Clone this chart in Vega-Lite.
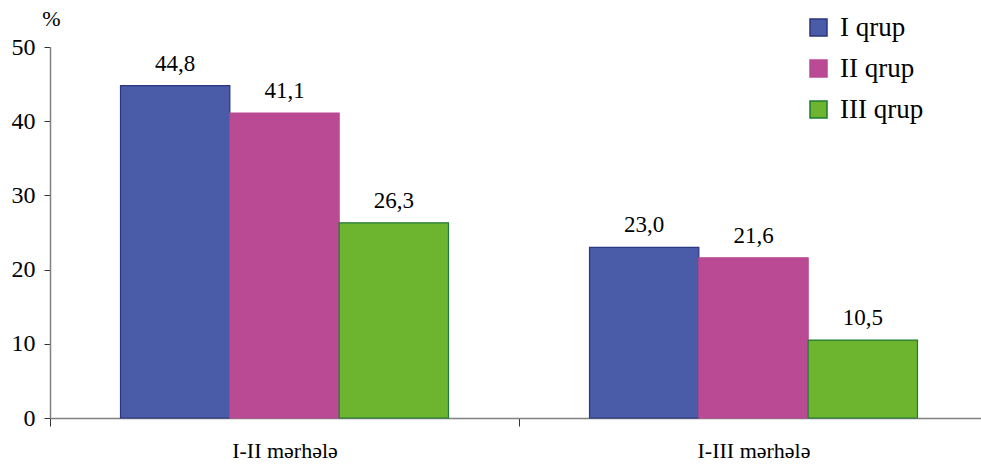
{
  "$schema": "https://vega.github.io/schema/vega-lite/v6.json",
  "width": 938,
  "height": 371,
  "autosize": "none",
  "padding": {"left": 50, "top": 47, "right": 0, "bottom": 47},
  "background": "white",
  "config": {
    "view": {"stroke": null},
    "font": "Liberation Serif, Times New Roman, Tinos, serif",
    "locale": {"number": {"decimal": ",", "thousands": " ", "grouping": [3], "currency": ["", ""]}}
  },
  "data": {
    "values": [
      {"stage": "I-II mərhələ", "group": "I qrup", "value": 44.8},
      {"stage": "I-II mərhələ", "group": "II qrup", "value": 41.1},
      {"stage": "I-II mərhələ", "group": "III qrup", "value": 26.3},
      {"stage": "I-III mərhələ", "group": "I qrup", "value": 23.0},
      {"stage": "I-III mərhələ", "group": "II qrup", "value": 21.6},
      {"stage": "I-III mərhələ", "group": "III qrup", "value": 10.5}
    ]
  },
  "encoding": {
    "x": {
      "field": "stage", "type": "nominal", "sort": ["I-II mərhələ", "I-III mərhələ"],
      "scale": {"paddingInner": 0, "paddingOuter": 0},
      "axis": {
        "title": null, "labelAngle": 0, "tickBand": "extent",
        "domainColor": "#808080", "domainWidth": 1.5,
        "tickColor": "#333333", "tickSize": 8,
        "labelFont": "Liberation Serif, Times New Roman, Tinos, serif", "labelFontSize": 22, "labelColor": "#000000",
        "labelPadding": 14
      }
    },
    "xOffset": {"field": "group", "type": "nominal", "sort": ["I qrup", "II qrup", "III qrup"], "scale": {"paddingInner": 0, "paddingOuter": 0.645}},
    "y": {
      "field": "value", "type": "quantitative",
      "scale": {"domain": [0, 50], "nice": false},
      "axis": {
        "title": "%", "titleAngle": 0, "titleX": 1, "titleY": -22, "titleAlign": "center", "titleBaseline": "alphabetic",
        "titleFont": "Liberation Serif, Times New Roman, Tinos, serif", "titleFontSize": 22, "titleFontWeight": "normal", "titleColor": "#000000",
        "values": [0, 10, 20, 30, 40, 50], "grid": false,
        "domainColor": "#808080", "domainWidth": 1.5,
        "tickColor": "#333333", "tickSize": 6,
        "labelFont": "Liberation Serif, Times New Roman, Tinos, serif", "labelFontSize": 24, "labelColor": "#000000", "labelPadding": 9
      }
    }
  },
  "layer": [
    {
      "mark": {"type": "bar", "strokeWidth": 1.2},
      "encoding": {
        "fill": {
          "field": "group", "type": "nominal",
          "scale": {"domain": ["I qrup", "II qrup", "III qrup"], "range": ["#4A5BA8", "#BB4A94", "#6DB52E"]},
          "legend": {
            "title": null, "orient": "none", "legendX": 755, "legendY": -33,
            "symbolType": "square", "symbolSize": 289, "symbolStrokeWidth": 1.5,
            "labelFont": "Liberation Serif, Times New Roman, Tinos, serif", "labelFontSize": 27, "labelColor": "#000000",
            "rowPadding": 13, "labelOffset": 8
          }
        },
        "stroke": {
          "field": "group", "type": "nominal",
          "scale": {"domain": ["I qrup", "II qrup", "III qrup"], "range": ["#2A367E", "#BB4A94", "#1F7A35"]},
          "legend": {
            "title": null, "orient": "none", "legendX": 755, "legendY": -33,
            "symbolType": "square", "symbolSize": 289, "symbolStrokeWidth": 1.5,
            "labelFont": "Liberation Serif, Times New Roman, Tinos, serif", "labelFontSize": 27, "labelColor": "#000000",
            "rowPadding": 13, "labelOffset": 8
          }
        }
      }
    },
    {
      "mark": {"type": "text", "baseline": "alphabetic", "dy": -15, "fontSize": 23, "font": "Liberation Serif, Times New Roman, Tinos, serif", "color": "#000000"},
      "encoding": {
        "text": {"field": "value", "type": "quantitative", "format": ".1f"}
      }
    }
  ]
}
